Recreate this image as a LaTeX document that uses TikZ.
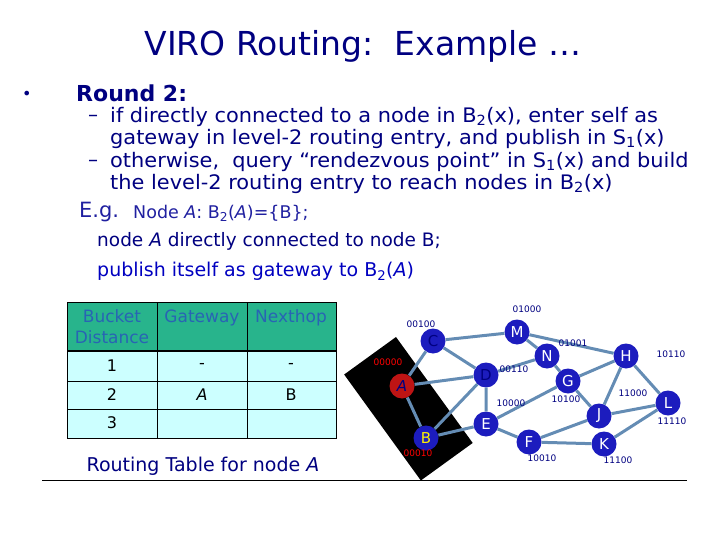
\documentclass[tikz,border=0pt]{standalone}
\usepackage{fontspec}
\setmainfont{DejaVu Sans}
\newfontfamily\widefont[FakeStretch=1.045]{DejaVu Sans}
\usetikzlibrary{positioning}
\definecolor{navy}{RGB}{0,0,128}
\definecolor{egblue}{RGB}{32,32,160}
\definecolor{pubblue}{RGB}{0,0,192}
\definecolor{linkblue}{RGB}{100,140,180}
\definecolor{nodeblue}{RGB}{28,28,190}
\definecolor{nodered}{RGB}{190,20,20}
\definecolor{headgreen}{RGB}{40,180,140}
\definecolor{headtext}{RGB}{40,100,180}
\definecolor{rowcyan}{RGB}{204,255,255}
\newcommand{\fs}[1]{\fontsize{#1}{#1}\selectfont}
\tikzset{
  vnode/.style={circle, fill=nodeblue, minimum size=25pt, inner sep=0pt, text=white, font=\fs{15}},
  link/.style={linkblue, line width=3pt},
  vid/.style={font=\fs{9}, text=navy, inner sep=0pt},
  line/.style={anchor=west, inner sep=0pt, text=navy},
  cell/.style={inner sep=0pt, font=\fs{16}},
}
\begin{document}
\begin{tikzpicture}[x=1pt,y=-1pt]
        \useasboundingbox (0,0) rectangle (720,540);
        % title and text
        \node[text=navy, font=\fs{33}] (title) at (363,46) {VIRO Routing:\ \ Example \ldots};
        \node[line, font=\fs{16}] (bul) at (22,95) {\textbullet};
        \node[line, font=\bfseries\fs{22}] (round) at (76,93) {Round 2:};
        \node[line, font=\fs{20}] (d1) at (88,118) {–};
        \node[line, font=\widefont\fontsize{20}{22}\selectfont, align=left] (l1) at (110,128) {if directly connected to a node in B\textsubscript{2}(x), enter self as\\gateway in level-2 routing entry, and publish in S\textsubscript{1}(x)};
        \node[line, font=\fs{20}] (d2) at (88,163) {–};
        \node[line, font=\widefont\fontsize{20}{22}\selectfont, align=left] (l3) at (110,173) {otherwise,\ \ query “rendezvous point” in S\textsubscript{1}(x) and build\\the level-2 routing entry to reach nodes in B\textsubscript{2}(x)};
        \node[line, text=egblue, font=\fs{21}] (eg) at (79,212) {E.g.};
        \node[line, text=egblue, font=\fs{17.5}] (ega) at (133,213) {Node \textit{A}: B\textsubscript{2}(\textit{A})=\{B\};};
        \node[line, font=\fs{18.5}] (egb) at (97,241) {node \textit{A} directly connected to node B;};
        \node[line, text=pubblue, font=\fs{19}] (egc) at (97,271) {publish itself as gateway to B\textsubscript{2}(\textit{A})};
        % routing table
        \fill[headgreen] (67,302) rectangle (336,351);
        \fill[rowcyan] (67,351) rectangle (336,438);
        \draw (67,302) rectangle (336,438);
        \draw (157,302) -- (157,438) (247,302) -- (247,438);
        \draw (67,381) -- (336,381) (67,409) -- (336,409);
        \draw[line width=2.5pt] (67,351) -- (336,351);
        \node[cell, text=headtext, align=center, anchor=base, font=\fontsize{17}{21}\selectfont] (hbd) at (112,343) {Bucket\\Distance};
        \node[cell, text=headtext, anchor=base, font=\fs{17}] (hgw) at (202,322) {Gateway};
        \node[cell, text=headtext, anchor=base, font=\fs{17}] (hnh) at (291,322) {Nexthop};
        \node[cell] (r1a) at (112,366) {1};
        \node[cell] (r1b) at (202,366) {-};
        \node[cell] (r1c) at (291,366) {-};
        \node[cell] (r2a) at (112,395) {2};
        \node[cell] (r2b) at (202,395) {\textit{A}};
        \node[cell] (r2c) at (291,395) {B};
        \node[cell] (r3a) at (112,423) {3};
        \node[text=navy, font=\fs{19}] (cap) at (203,466) {Routing Table for node \textit{A}};
        \draw (42,480) -- (687,480);
        % black box round A and B
        \begin{scope}[shift={(396,337)}, rotate=-54.1]
        \fill (0,0) rectangle (130.8,64);
        \end{scope}
        % network
        \node[vnode, fill=nodered, text=navy] (A) at (402,386) {\textit{A}};
        \node[vnode, text=yellow] (B) at (426,438) {B};
        \node[vnode, text=navy] (C) at (433,341) {C};
        \node[vnode, text=navy] (D) at (486,375) {D};
        \node[vnode] (E) at (486,424) {E};
        \node[vnode] (F) at (529,442) {F};
        \node[vnode] (G) at (568,381) {G};
        \node[vnode] (H) at (626,356) {H};
        \node[vnode] (J) at (599,416) {J};
        \node[vnode] (K) at (604,444) {K};
        \node[vnode] (L) at (668,403) {L};
        \node[vnode] (M) at (517,332) {M};
        \node[vnode] (N) at (547,356) {N};
        \draw[link] (C) -- (A) (C) -- (M) (C) -- (D) (M) -- (N) (M) -- (H)
                    (N) -- (D) (N) -- (G) (A) -- (D) (A) -- (B) (B) -- (D)
                    (B) -- (E) (D) -- (E) (E) -- (G) (E) -- (F) (G) -- (H)
                    (G) -- (J) (H) -- (J) (H) -- (L) (J) -- (L) (J) -- (F)
                    (F) -- (K) (K) -- (L);
        \node[vid, text=red] (idA) at (388,362) {00000};
        \node[vid, text=red] (idB) at (418,453) {00010};
        \node[vid] (idC) at (421,324) {00100};
        \node[vid] (idD) at (514,369) {00110};
        \node[vid] (idE) at (511,403) {10000};
        \node[vid] (idF) at (542,458) {10010};
        \node[vid] (idG) at (566,399) {10100};
        \node[vid] (idH) at (671,354) {10110};
        \node[vid] (idJ) at (633,393) {11000};
        \node[vid] (idK) at (618,460) {11100};
        \node[vid] (idL) at (672,421) {11110};
        \node[vid] (idM) at (527,309) {01000};
        \node[vid] (idN) at (573,343) {01001};
\end{tikzpicture}
\end{document}
